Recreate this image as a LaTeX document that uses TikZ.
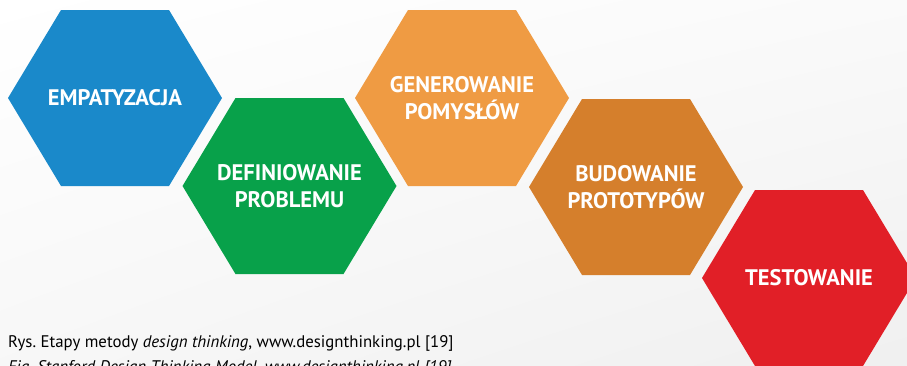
\documentclass[tikz,border=0pt]{standalone}
\usepackage{fontspec}
\setmainfont{PT Sans}
\usepackage{xcolor}
\usepackage{tikz}
\usetikzlibrary{shadings}
\frenchspacing

\definecolor{niebieski}{HTML}{1A89CA}
\definecolor{zielony}{HTML}{08A14A}
\definecolor{pomarancz}{HTML}{EF9B43}
\definecolor{brazowy}{HTML}{D57F2C}
\definecolor{czerwony}{HTML}{E11F27}

\tikzstyle{etap} = [text=white, align=center, font=\fontsize{22.5}{27}\selectfont\bfseries, inner sep=0pt]
\tikzstyle{podpis} = [anchor=base west, inner sep=0pt, font=\fontsize{16.8}{20}\selectfont]

% szesciokat: nazwa, srodek, kolor, tekst
\newcommand{\heks}[5]{%
  \fill[#4] (#2,#3) ++(-107,0) -- ++(53,-88) -- ++(108,0) -- ++(53,88)
                    -- ++(-53,88) -- ++(-108,0) -- cycle;
  \node[etap] (#1) at (#2,#3) {#5};
}

\begin{document}
\begin{tikzpicture}[x=1pt, y=-1pt]

    % tlo
    \useasboundingbox (0,0) rectangle (907,365);
    \clip (0,0) rectangle (907,365);
    \shade[upper left=white, upper right=black!2, lower left=black!3, lower right=black!6]
        (0,0) rectangle (907,365);

    % etapy metody
    \heks{empatyzacja}{115}{98}{niebieski}{EMPATYZACJA}
    \heks{definiowanie}{289.5}{186}{zielony}{DEFINIOWANIE\\PROBLEMU}
    \heks{generowanie}{462}{98}{pomarancz}{GENEROWANIE\\POMYSŁÓW}
    \heks{budowanie}{636}{187}{brazowy}{BUDOWANIE\\PROTOTYPÓW}
    \heks{testowanie}{809}{278}{czerwony}{TESTOWANIE}

    % podpis rysunku
    \node[podpis] (rys) at (8,347) {Rys. Etapy metody \textit{design thinking}, www.designthinking.pl [19]};
    \node[podpis] (fig) at (8,372) {\itshape Fig. Stanford Design Thinking Model, www.designthinking.pl [19]};

\end{tikzpicture}
\end{document}
